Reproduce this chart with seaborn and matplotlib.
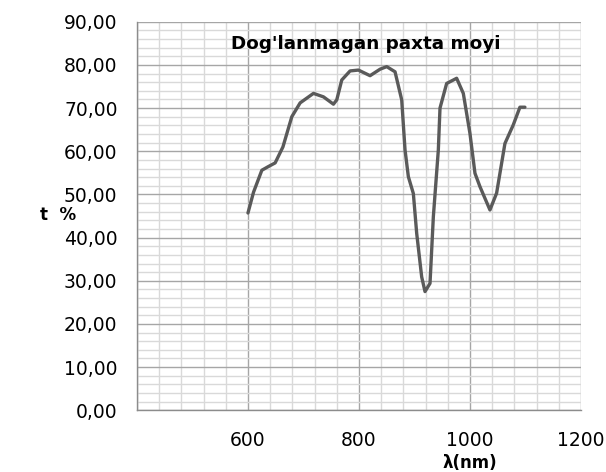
import numpy as np
import pandas as pd
import seaborn as sns
import matplotlib.pyplot as plt
from matplotlib.ticker import MultipleLocator, FuncFormatter

# transmittance spectrum
wavelength = [600, 610, 625, 636, 649, 663, 679, 694, 718, 736, 754, 760, 769, 784,
              799, 820, 838, 850, 865, 877, 883, 889, 898, 904, 913, 919, 928, 934,
              943, 946, 958, 976, 988, 1000, 1009, 1018, 1036, 1048, 1063, 1078,
              1090, 1099]
transmittance = [45.7, 50.5, 55.6, 56.4, 57.3, 61.0, 68.0, 71.2, 73.4, 72.6, 70.9, 71.9,
                 76.5, 78.6, 78.8, 77.5, 79.0, 79.6, 78.4, 71.9, 60.3, 54.1, 50.2, 41.0,
                 30.9, 27.5, 29.4, 44.8, 60.3, 70.0, 75.7, 76.9, 73.4, 64.1, 54.9, 51.8,
                 46.4, 50.3, 61.8, 66.1, 70.2, 70.2]
x_ticks = [400, 600, 800, 1000, 1200]
x_tick_labels = ['', '600', '800', '1000', '1200']

sns.set_style("white")
plt.rcParams['font.family'] = ['DejaVu Sans']
plt.rcParams['text.color'] = 'black'

df = pd.DataFrame({'wl': wavelength, 't': transmittance})

fig = plt.figure(figsize=(6.06, 4.72), dpi=100)
ax = fig.add_axes([0.226, 0.1307, 0.7327, 0.8233])

# grid
ax.xaxis.set_minor_locator(MultipleLocator(40))
ax.yaxis.set_minor_locator(MultipleLocator(2))
ax.set_xticks(x_ticks)
ax.set_xticklabels(x_tick_labels)
ax.yaxis.set_major_locator(MultipleLocator(10))
ax.grid(which='major', color='#a6a6a6', linewidth=1.0, zorder=0)
ax.grid(which='minor', color='#d9d9d9', linewidth=1.0, zorder=0)
ax.set_axisbelow(True)

sns.lineplot(data=df, x='wl', y='t', ax=ax, color='#5a5a5a', linewidth=2.4,
             solid_joinstyle='round', solid_capstyle='round')

ax.set_xlim(400, 1200)
ax.set_ylim(0, 90)
ax.yaxis.set_major_formatter(FuncFormatter(lambda v, p: f"{v:.2f}".replace('.', ',')))

for s in ['top', 'right']:
    ax.spines[s].set_visible(False)
for s in ['left', 'bottom']:
    ax.spines[s].set_color('#8c8c8c')
    ax.spines[s].set_linewidth(1.0)

ax.tick_params(axis='both', which='major', length=6, width=1.0, color='#8c8c8c',
               labelsize=13.5, labelcolor='black', direction='out')
ax.tick_params(axis='both', which='minor', length=0)
ax.tick_params(axis='x', pad=9)
ax.tick_params(axis='y', pad=8)

ax.set_xlabel('')
ax.set_ylabel('')
fig.text(0.775, 0.019, 'λ(nm)', fontsize=12, fontweight='bold', ha='center', va='center',
         color='black')
fig.text(0.066, 0.545, 't  %', fontsize=12, fontweight='bold', ha='left', va='center',
         color='black')
ax.text(0.515, 0.943, "Dog'lanmagan paxta moyi", transform=ax.transAxes,
        fontsize=13.2, fontweight='bold', ha='center', va='center', color='black')

fig.savefig('out.png', dpi=100)
